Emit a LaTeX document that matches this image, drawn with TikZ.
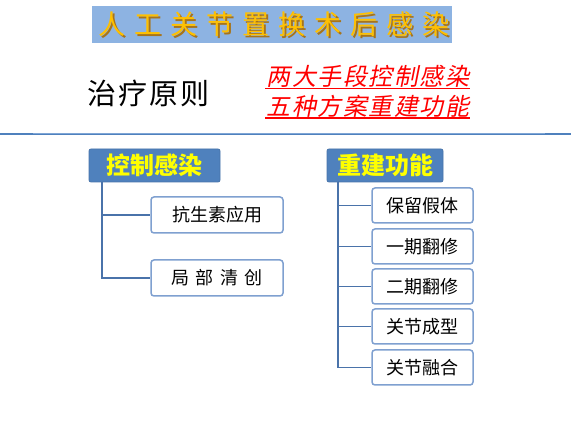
\documentclass[tikz,border=0pt]{standalone}
\usepackage{fontspec}
\setmainfont{Noto Sans CJK SC}
\newfontfamily\cjk{Noto Sans CJK SC}
\newfontfamily\cjkslant[FakeSlant=0.2]{Noto Sans CJK SC}
\definecolor{titlebg}{HTML}{8DB3E2}
\definecolor{titlefg}{HTML}{FFC000}
\definecolor{titlesh}{HTML}{A87418}
\definecolor{headbg}{HTML}{4F81BD}
\definecolor{headfg}{HTML}{FFFF00}
\definecolor{linkc}{HTML}{4A73AA}
\definecolor{boxline}{HTML}{7FA0D0}
\definecolor{rule1}{HTML}{4F81BD}
\definecolor{rule2}{HTML}{7FA6D6}
\newcommand{\titletext}{人\hspace{9pt}工\hspace{9pt}关\hspace{9pt}节\hspace{9pt}置\hspace{9pt}换\hspace{9pt}术\hspace{9pt}后\hspace{9pt}感\hspace{9pt}染}
\begin{document}
\begin{tikzpicture}[x=1pt,y=-1pt,
  headbox/.style={fill=headbg,draw=headbg!90!black,line width=0.8pt,rounded corners=2pt,
    minimum width=131pt,minimum height=33pt,inner sep=0pt,text=headfg,
    font=\cjk\bfseries\fontsize{24}{26}\selectfont},
  childbox/.style={draw=boxline,line width=1.5pt,fill=white,rounded corners=3pt,
    inner sep=0pt,font=\cjk\fontsize{18}{20}\selectfont,text=black},
  link/.style={draw=linkc,line width=1.6pt}]
\useasboundingbox (0,0) rectangle (571,427);
\fill[white] (0,0) rectangle (571,427);
% title
\node[fill=titlebg,minimum width=360pt,minimum height=37pt,inner sep=0pt] (title) at (272,24.5) {};
\node[text=titlefg,font=\cjk\fontsize{27}{29}\selectfont,inner sep=0pt] (titletxt) at (274,25.5)
  {\makebox[0pt][l]{\hspace{1.6pt}\raisebox{-1.8pt}{\textcolor{titlesh}{\titletext}}}\titletext};
% principle
\node[font=\cjk\fontsize{29}{31}\selectfont,inner sep=0pt] (principle) at (148.5,93)
  {治\hspace{2pt}疗\hspace{2pt}原\hspace{2pt}则};
\node[font=\cjkslant\fontsize{24}{26}\selectfont,text=red,inner sep=0pt] (red1) at (368,76.5)
  {两\hspace{1.5pt}大\hspace{1.5pt}手\hspace{1.5pt}段\hspace{1.5pt}控\hspace{1.5pt}制\hspace{1.5pt}感\hspace{1.5pt}染};
\node[font=\cjkslant\fontsize{24}{26}\selectfont,text=red,inner sep=0pt] (red2) at (368,106.5)
  {五\hspace{1.5pt}种\hspace{1.5pt}方\hspace{1.5pt}案\hspace{1.5pt}重\hspace{1.5pt}建\hspace{1.5pt}功\hspace{1.5pt}能};
\draw[red,line width=1.6pt] (265,88.5) -- (470,88.5);
\draw[red,line width=1.6pt] (265,118) -- (470,118);
% rule
\draw[rule1,line width=1.6pt] (0,134) -- (571,134);
\draw[rule2,line width=1pt] (33,134) -- (545,134);
% left tree
\node[headbox] (h1) at (154.5,165.5) {控制感染};
\node[childbox,minimum width=132pt,minimum height=36pt] (c11) at (217,215) {抗生素应用};
\node[childbox,minimum width=132pt,minimum height=36pt] (c12) at (217,278) {局\hspace{0.35em}部\hspace{0.35em}清\hspace{0.35em}创};
\coordinate (t1) at (102,182);
\draw[link] (t1) |- (c11.west);
\draw[link] (t1) |- (c12.west);
% right tree
\node[headbox,minimum width=116pt] (h2) at (385,165.5) {重建功能};
\node[childbox,minimum width=101pt,minimum height=35pt] (c21) at (422.5,205.5) {保留假体};
\node[childbox,minimum width=101pt,minimum height=35pt] (c22) at (422.5,246.5) {一期翻修};
\node[childbox,minimum width=101pt,minimum height=35pt] (c23) at (422.5,286.5) {二期翻修};
\node[childbox,minimum width=101pt,minimum height=35pt] (c24) at (422.5,326.5) {关节成型};
\node[childbox,minimum width=101pt,minimum height=35pt] (c25) at (422.5,367.5) {关节融合};
\coordinate (t2) at (338,182);
\foreach \c in {c21,c22,c23,c24,c25} \draw[link] (t2) |- (\c.west);
\end{tikzpicture}
\end{document}
